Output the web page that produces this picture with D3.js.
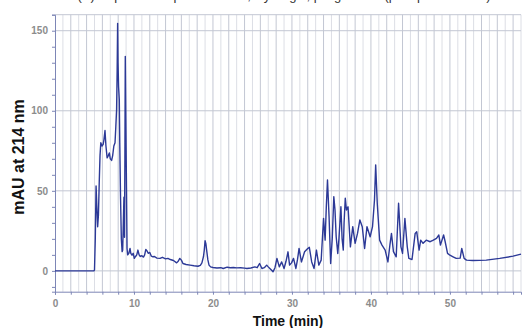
<!DOCTYPE html>
<html>
<head>
<meta charset="utf-8">
<script src="https://cdn.jsdelivr.net/npm/d3@7"></script>
<style>
  body { margin: 0; background: #fff; }
  svg { display: block; font-family: "Liberation Sans", Arial, sans-serif; }
</style>
</head>
<body>
<div id="chart"></div>
<script>
// retention time (min)
const times = [
  0, 4.9, 5.0, 5.1, 5.2, 5.3, 5.4, 5.5, 5.6, 5.7, 5.8, 5.95, 6.1, 6.2, 6.33, 6.45, 6.6, 6.75, 6.88, 7.0,
  7.17, 7.3, 7.45, 7.6, 7.7, 7.8, 7.87, 7.93, 7.98, 8.05, 8.14, 8.2, 8.3, 8.4, 8.5, 8.57, 8.65, 8.73, 8.8, 8.85,
  8.9, 8.97, 9.05, 9.12, 9.2, 9.35, 9.5, 9.6, 9.75, 9.9, 10.04, 10.2, 10.35, 10.5, 10.65, 10.8, 11.0, 11.2, 11.35, 11.5,
  11.65, 11.8, 12.0, 12.2, 12.4, 12.6, 12.9, 13.3, 13.6, 14.0, 14.3, 14.6, 15.0, 15.4, 15.6, 15.8, 16.0, 16.2, 16.6, 17.1,
  17.6, 18.1, 18.4, 18.6, 18.8, 18.9, 19.0, 19.1, 19.2, 19.35, 19.5, 19.7, 20.0, 20.5, 21.0, 21.3, 21.8, 22.2, 22.6, 23.0,
  23.5, 24.0, 24.3, 24.8, 25.3, 25.6, 25.9, 26.2, 26.5, 26.8, 27.0, 27.2, 27.4, 27.6, 27.85, 28.1, 28.4, 28.7, 29.0, 29.25,
  29.5, 29.7, 29.95, 30.2, 30.5, 30.7, 30.9, 31.2, 31.6, 32.0, 32.2, 32.5, 32.8, 33.1, 33.4, 33.7, 34.0, 34.2, 34.35, 34.5,
  34.7, 34.9, 35.1, 35.3, 35.45, 35.6, 35.8, 35.95, 36.2, 36.35, 36.5, 36.6, 36.75, 36.9, 37.1, 37.4, 37.7, 38.0, 38.3, 38.6,
  38.9, 39.2, 39.5, 39.9, 40.2, 40.45, 40.6, 40.8, 41.1, 41.4, 41.8, 42.15, 42.4, 42.6, 42.85, 43.2, 43.5, 43.8, 44.0, 44.3,
  44.6, 44.8, 45.2, 45.6, 45.8, 46.1, 46.3, 46.6, 47.0, 47.5, 47.9, 48.3, 48.6, 48.8, 49.2, 49.4, 49.7, 50.0, 50.4, 50.8,
  51.3, 51.5, 51.8, 52.1, 52.9, 54.6, 56.3, 58.0, 59.0
];

// absorbance (mAU at 214 nm)
const absorbance = [
  0, 0, 0.5, 20, 53, 40, 27.6, 35, 55, 72, 80, 78, 79, 82, 87.7, 78, 70.6, 72, 73.7, 70,
  69, 72, 78, 80, 90, 100.7, 125, 154.6, 130, 115, 107, 80, 45, 20, 12, 13, 30, 46, 21, 70,
  134, 95, 52, 14, 10, 11, 14, 11, 9.8, 11, 7.8, 9, 10, 13, 10, 9, 9.5, 8.6, 10, 13.4,
  12.5, 11, 11.5, 9.2, 8.8, 9, 8, 7.8, 8.5, 7.5, 7.8, 7.1, 6.5, 5, 6, 7.8, 6.7, 4.6, 4, 3.6,
  3.2, 2.9, 3.5, 5, 9, 13, 18.8, 17, 13, 7, 3.6, 2.5, 2.1, 1.8, 2, 1.5, 2.3, 2, 2.1, 1.9,
  2, 1.7, 1.5, 1.8, 2.5, 2, 4.6, 1.5, 2, 3.6, 2.5, 1.5, 0.5, -0.6, 2, 7.8, 2.5, 5.6, 1.5, 6,
  11.9, 3.6, 5, 7.8, 1.5, 7, 14, 5.6, 11.9, 14, 14.7, 5.6, 1.5, 13, 3.6, 6.7, 32.8, 19.2, 40, 56.8,
  33.8, 4.6, 20, 46.4, 38, 21.3, 10.9, 20, 40.1, 20, 13, 30, 45.4, 38, 40, 15, 27.6, 17.2, 23.4, 31.8,
  27.6, 14, 27.6, 21.3, 27.6, 44.3, 66.2, 42.2, 19.2, 16.1, 13, 5.6, 16.1, 23.4, 12, 8.8, 42.2, 15, 10.9, 32.8,
  15, 7.8, 7.1, 23.4, 24.4, 13, 19.2, 17.2, 19.2, 18.2, 19.2, 20.3, 22.4, 16.1, 22.4, 18.2, 10.9, 9.8, 8.8, 7.8,
  8, 14, 7.8, 6.7, 6.5, 6.7, 7.8, 9.2, 10.5
];

const xTicks = [0, 10, 20, 30, 40, 50];
const yTicks = [0, 50, 100, 150];

const titleText = "(A)  Superdex Peptide column, Hydrogel, pH gradient (phosphate buffer)";
const xLabel = "Time (min)";
const yLabel = "mAU at 214 nm";

const W = 522, H = 328;
const margin = { top: 14.7, right: 1, bottom: 36.3, left: 55 };
const width = W - margin.left - margin.right;
const height = H - margin.top - margin.bottom;

const data = times.map((t, i) => ({ t: t, v: absorbance[i] }));

const svg = d3.select("#chart")
  .append("svg")
  .attr("width", W)
  .attr("height", H);

// title - the original only shows the bottom of it
svg.append("text")
  .attr("x", 284)
  .attr("y", -0.5)
  .attr("text-anchor", "middle")
  .style("font-size", "13px")
  .style("fill", "#333")
  .text(titleText);

const g = svg.append("g")
  .attr("transform", "translate(" + margin.left + "," + margin.top + ")");

const x = d3.scaleLinear().domain([0, 59]).range([0, width]);
const y = d3.scaleLinear().domain([-13, 160]).range([height, 0]);

// vertical grid, one line per minute
g.append("g")
  .selectAll("line")
  .data(d3.range(1, 60))
  .enter()
  .append("line")
  .attr("x1", d => x(d))
  .attr("x2", d => x(d))
  .attr("y1", 0)
  .attr("y2", height)
  .attr("stroke", d => d % 2 === 0 ? "#c3c7d3" : "#dcdee5")
  .attr("stroke-width", 1);

// horizontal grid at the major ticks + top border
g.append("g")
  .selectAll("line")
  .data(yTicks.concat([160]))
  .enter()
  .append("line")
  .attr("x1", 0)
  .attr("x2", width)
  .attr("y1", d => y(d))
  .attr("y2", d => y(d))
  .attr("stroke", "#c3c7d3")
  .attr("stroke-width", 1);

// X axis
const xAxis = g.append("g")
  .attr("transform", "translate(0," + height + ")")
  .call(d3.axisBottom(x).tickValues(d3.range(0, 59, 2)).tickSize(3).tickFormat(d => xTicks.includes(d) ? d : ""));
xAxis.select(".domain").attr("stroke", "#7d86b6");
xAxis.selectAll(".tick line").attr("stroke", "#7d86b6");
xAxis.selectAll("text")
  .attr("dy", "0.75em")
  .attr("y", 8)
  .style("font-size", "10px")
  .style("font-weight", "bold")
  .style("font-family", "'Liberation Sans', Arial, sans-serif")
  .style("fill", "#8c8c8c");

// Y axis
const yAxis = g.append("g")
  .call(d3.axisLeft(y).tickValues(d3.range(-10, 161, 10)).tickSize(3).tickFormat(d => yTicks.includes(d) ? d : ""));
yAxis.select(".domain").attr("stroke", "#7d86b6");
yAxis.selectAll(".tick line").attr("stroke", "#7d86b6");
yAxis.selectAll("text")
  .attr("x", -7)
  .style("font-size", "10px")
  .style("font-weight", "bold")
  .style("font-family", "'Liberation Sans', Arial, sans-serif")
  .style("fill", "#8c8c8c");

// trace
const line = d3.line()
  .x(d => x(d.t))
  .y(d => y(d.v));

g.append("path")
  .datum(data)
  .attr("fill", "none")
  .attr("stroke", "#2c3997")
  .attr("stroke-width", 1.4)
  .attr("stroke-linejoin", "round")
  .attr("d", line);

// axis titles
svg.append("text")
  .attr("x", margin.left + width / 2)
  .attr("y", 326)
  .attr("text-anchor", "middle")
  .style("font-size", "14px")
  .style("font-weight", "bold")
  .style("fill", "#111")
  .text(xLabel);

svg.append("text")
  .attr("transform", "translate(24," + 157 + ")rotate(-90)")
  .attr("text-anchor", "middle")
  .style("font-size", "16px")
  .style("font-weight", "bold")
  .style("fill", "#111")
  .text(yLabel);
</script>
</body>
</html>
